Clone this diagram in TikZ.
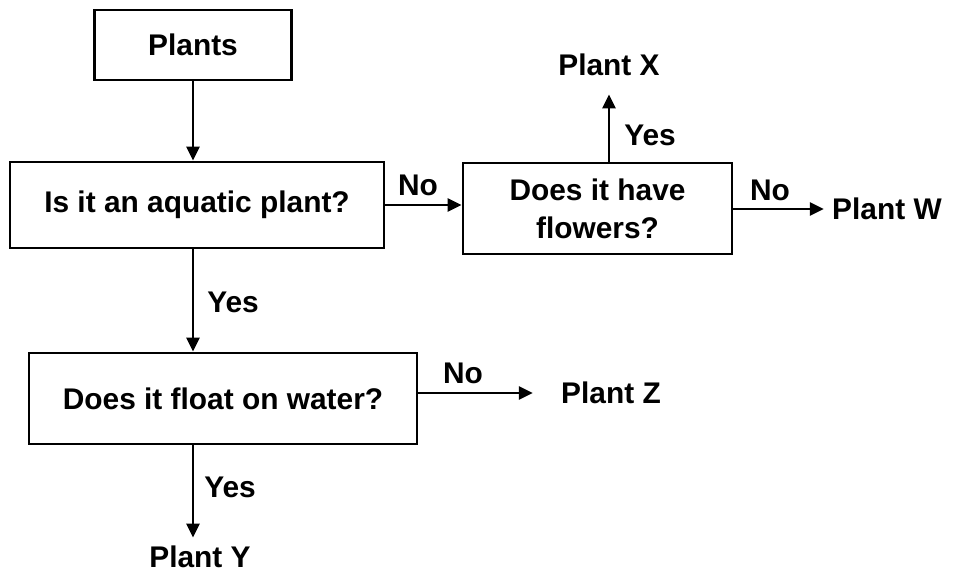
\documentclass[tikz,border=0pt]{standalone}
\usepackage{fontspec}
\setmainfont{Liberation Sans}
\usetikzlibrary{positioning, arrows.meta}

\begin{document}
\begin{tikzpicture}[
  > = {Triangle[length=1.4mm, width=1.3mm]},
  line width=0.8pt,
  font=\fontsize{8.5}{10.8}\selectfont\bfseries,
  qbox/.style={draw, minimum height=9.1mm, inner sep=0pt, align=center},
  leaf/.style={inner sep=2pt},
  ans/.style={inner sep=0pt},
  arr/.style={->, line width=0.8pt}
]
  \useasboundingbox (0, 0) rectangle (9.53, -5.74);

  \node[qbox, minimum width=19.7mm, minimum height=7mm] (plants) at (1.93, -0.45) {Plants};
  \node[qbox, minimum width=37.4mm, minimum height=8.6mm] (aqua) at (1.97, -2.05) {Is it an aquatic plant?};
  \node[qbox, minimum width=26.9mm] (flow) at (5.975, -2.085) {Does it have\\flowers?};
  \node[qbox, minimum width=38.8mm] (float) at (2.23, -3.985) {Does it float on water?};

  \node[leaf] (px) at (6.09, -0.65) {Plant X};
  \node[leaf] (pw) at (8.87, -2.09) {Plant W};
  \node[leaf] (pz) at (6.11, -3.93) {Plant Z};
  \node[leaf] (py) at (2.00, -5.57) {Plant Y};

  \draw[arr] (plants.south) -- (plants.south |- aqua.north);
  \draw[arr] (aqua.east) -- (aqua.east -| flow.west);
  \draw[arr, shorten >=1mm] (flow.north -| px.south) -- (px.south);
  \draw[arr] (flow.east |- pw) -- (pw.west);
  \draw[arr] (aqua.south -| plants.south) -- (float.north -| plants.south);
  \draw[arr] (float.east |- pz) -- ([xshift=-2mm]pz.west);
  \draw[arr] (float.south -| plants.south) -- (py.north -| plants.south);

  % branch labels
  \node[ans] (n1) at (4.18, -1.85) {No};
  \node[ans] (y1) at (6.50, -1.35) {Yes};
  \node[ans] (n2) at (7.70, -1.90) {No};
  \node[ans] (y2) at (2.33, -3.02) {Yes};
  \node[ans] (n3) at (4.63, -3.73) {No};
  \node[ans] (y3) at (2.30, -4.87) {Yes};
\end{tikzpicture}
\end{document}
